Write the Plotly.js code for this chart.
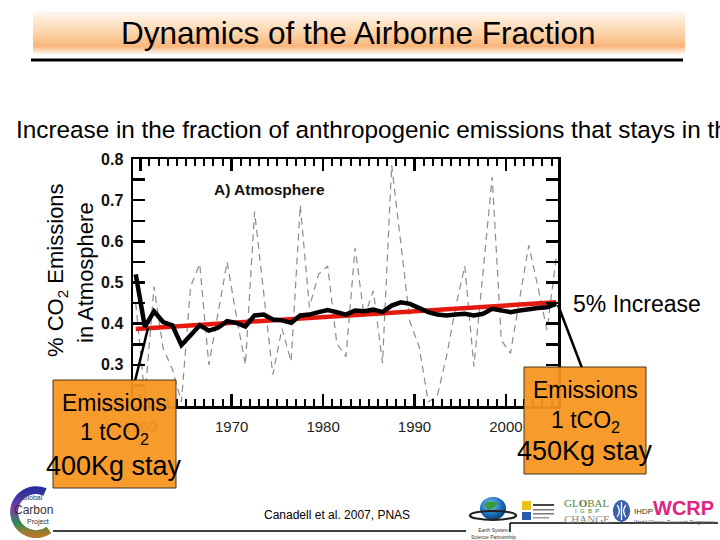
<!DOCTYPE html>
<html><head><meta charset="utf-8">
<script src="https://cdn.plot.ly/plotly-3.0.1.min.js"></script>
<style>html,body{margin:0;padding:0;background:#fff;} #chart{width:720px;height:540px;}</style>
</head><body><div id="chart"></div>
<script>
// ---- data ----
const years = [1959,1960,1961,1962,1963,1964,1965,1966,1967,1968,1969,1970,1971,1972,1973,1974,1975,1976,1977,1978,1979,1980,1981,1982,1983,1984,1985,1986,1987,1988,1989,1990,1991,1992,1993,1994,1995,1996,1997,1998,1999,2000,2001,2002,2003,2004,2005];
const airborneFraction = [0.45,0.22,0.49,0.34,0.29,0.21,0.49,0.545,0.30,0.42,0.55,0.42,0.30,0.672,0.47,0.276,0.388,0.308,0.688,0.44,0.52,0.54,0.352,0.32,0.584,0.416,0.48,0.304,0.785,0.59,0.405,0.345,0.21,0.225,0.32,0.44,0.54,0.296,0.53,0.756,0.36,0.328,0.46,0.59,0.49,0.384,0.56];
const smoothedFraction = [0.52,0.392,0.43,0.404,0.396,0.348,0.372,0.396,0.383,0.39,0.406,0.402,0.393,0.42,0.422,0.41,0.408,0.402,0.42,0.422,0.428,0.433,0.428,0.422,0.432,0.43,0.434,0.428,0.444,0.452,0.448,0.438,0.428,0.422,0.42,0.422,0.424,0.42,0.424,0.436,0.432,0.428,0.432,0.436,0.438,0.44,0.448];
const trendYears = [1959, 2005];
const trendFraction = [0.387, 0.452];
const xTickVals = [1960, 1970, 1980, 1990, 2000];
const xTickText = ['1960', '1970', '1980', '1990', '2000'];
const yTickVals = [0.2, 0.3, 0.4, 0.5, 0.6, 0.7, 0.8];
const yTickText = ['0.2', '0.3', '0.4', '0.5', '0.6', '0.7', '0.8'];

// ---- layout helpers (pixel -> paper) ----
const W = 720, H = 540, L = 133, R = 162, T = 159, B = 134;
const pw = W - L - R, ph = H - T - B;
const px = x => (x - L) / pw;
const py = y => (H - B - y) / ph;
const mid = y => y + 0.5;   // annual values plotted at mid-year
const FONT = 'Liberation Sans, Arial, sans-serif';

function svgURI(s) { return 'data:image/svg+xml;charset=utf-8,' + encodeURIComponent(s); }

const headerSVG = "<svg xmlns='http://www.w3.org/2000/svg' width='652' height='43' preserveAspectRatio='none'><defs><linearGradient id='g' x1='0' y1='0' x2='0' y2='1'><stop offset='0' stop-color='#fff6ee'/><stop offset='0.5' stop-color='#fcd3a8'/><stop offset='0.8' stop-color='#f9b57a'/><stop offset='1' stop-color='#ffffff'/></linearGradient></defs><rect width='652' height='43' fill='url(#g)'/></svg>";
const gcpSVG = "<svg xmlns='http://www.w3.org/2000/svg' width='52' height='52'><defs><linearGradient id='c' x1='0' y1='0' x2='0' y2='1'><stop offset='0' stop-color='#2b2f9e'/><stop offset='0.45' stop-color='#7a3fa8'/><stop offset='0.75' stop-color='#2e8b57'/><stop offset='1' stop-color='#b07a2a'/></linearGradient></defs><path d='M40 6 A22 22 0 1 0 44 44' fill='none' stroke='url(#c)' stroke-width='8'/></svg>";
const globeSVG = "<svg xmlns='http://www.w3.org/2000/svg' width='50' height='34'><defs><radialGradient id='b' cx='0.4' cy='0.35' r='0.7'><stop offset='0' stop-color='#7fd0ff'/><stop offset='0.6' stop-color='#1c6fb8'/><stop offset='1' stop-color='#0b3a6e'/></radialGradient></defs><circle cx='25' cy='14' r='13' fill='url(#b)'/><path d='M16 9 Q22 4 30 8 Q27 14 20 16 Z' fill='#3a9a3a'/><ellipse cx='25' cy='22' rx='23' ry='5' fill='none' stroke='#222' stroke-width='2.5'/></svg>";
const igbpSVG = "<svg xmlns='http://www.w3.org/2000/svg' width='34' height='26'><rect x='1' y='3' width='9' height='9' fill='#e8c21a'/><rect x='1' y='14' width='9' height='8' fill='#2a5aa8'/><rect x='12' y='6' width='21' height='2' fill='#444'/><rect x='12' y='11' width='21' height='1.5' fill='#777'/><rect x='12' y='15' width='21' height='1.5' fill='#777'/><rect x='12' y='19' width='16' height='1.5' fill='#999'/></svg>";
const ihdpSVG = "<svg xmlns='http://www.w3.org/2000/svg' width='22' height='24'><ellipse cx='11' cy='12' rx='10' ry='11' fill='#3b5fa8'/><path d='M6 6 Q11 12 6 18 M11 3 L11 21 M16 6 Q11 12 16 18' stroke='#fff' stroke-width='1.5' fill='none'/></svg>";

const traces = [
  { x: years.map(mid), y: airborneFraction, type: 'scatter', mode: 'lines',
    line: { color: '#8c8c8c', width: 1.2, dash: '7px,5px' }, hoverinfo: 'skip' },
  { x: trendYears.map(mid), y: trendFraction, type: 'scatter', mode: 'lines',
    line: { color: '#e41a10', width: 4.5 }, hoverinfo: 'skip' },
  { x: years.map(mid), y: smoothedFraction, type: 'scatter', mode: 'lines',
    line: { color: '#000000', width: 4.5 }, hoverinfo: 'skip' }
];

const boxFill = '#f7951f';
const shapes = [
  // title underline
  { type: 'line', xref: 'paper', yref: 'paper', x0: px(31), x1: px(683), y0: py(60), y1: py(60), line: { color: '#000', width: 3 } },
  // connector lines
  { type: 'line', xref: 'paper', yref: 'paper', x0: px(135), y0: py(381), x1: px(148), y1: py(328), line: { color: '#000', width: 2.5 }, layer: 'above' },
  { type: 'line', xref: 'paper', yref: 'paper', x0: px(558), y0: py(305), x1: px(582), y1: py(368), line: { color: '#000', width: 2.5 }, layer: 'above' },
  // orange boxes
  { type: 'rect', xref: 'paper', yref: 'paper', x0: px(53), x1: px(176), y0: py(488), y1: py(380), fillcolor: boxFill, opacity: 0.94, line: { color: '#3a2a10', width: 1 }, layer: 'above' },
  { type: 'rect', xref: 'paper', yref: 'paper', x0: px(524), x1: px(646), y0: py(474), y1: py(367), fillcolor: boxFill, opacity: 0.94, line: { color: '#3a2a10', width: 1 }, layer: 'above' },
  // footer lines
  { type: 'line', xref: 'paper', yref: 'paper', x0: px(53), x1: px(466), y0: py(531), y1: py(531), line: { color: '#000', width: 1.5 } },
  { type: 'line', xref: 'paper', yref: 'paper', x0: px(510), x1: px(718), y0: py(523), y1: py(523), line: { color: '#000', width: 1.5 } },
  { type: 'line', xref: 'paper', yref: 'paper', x0: px(510), x1: px(510), y0: py(523), y1: py(532), line: { color: '#000', width: 1.5 } }
];

function img(src, x0, y0, x1, y1, layer) {
  return { source: svgURI(src), xref: 'paper', yref: 'paper', x: px(x0), y: py(y0),
    sizex: (x1 - x0) / pw, sizey: (y1 - y0) / ph, xanchor: 'left', yanchor: 'top', sizing: 'stretch', layer: layer || 'above' };
}
const images = [
  img(headerSVG, 33, 12, 685, 55, 'below'),
  img(gcpSVG, 5, 486, 57, 538),
  img(globeSVG, 468, 496, 518, 526),
  img(igbpSVG, 521, 498, 555, 524),
  img(ihdpSVG, 612, 499, 631, 523)
];

function ann(text, x, y, size, opts) {
  return Object.assign({ text: text, xref: 'paper', yref: 'paper', x: px(x), y: py(y), showarrow: false,
    xanchor: 'center', yanchor: 'middle', font: { family: FONT, size: size, color: '#000' } }, opts || {});
}
const annotations = [
  ann('Dynamics of the Airborne Fraction', 358, 33, 31.5),
  ann('Increase in the fraction of anthropogenic emissions that stays in the', 14, 130, 24.3, { xanchor: 'left' }),
  ann('% CO<sub>2</sub> Emissions', 57, 270, 22, { textangle: -90 }),
  ann('in Atmosphere', 85, 273, 22, { textangle: -90 }),
  ann('A) Atmosphere', 269, 189, 15.5, { font: { family: FONT, size: 15.5, color: '#111', weight: 'bold' } }),
  ann('5% Increase', 571, 304, 23, { xanchor: 'left' }),
  ann('Emissions', 114, 403, 23),
  ann('1 tCO<sub>2</sub>', 114, 433, 23),
  ann('400Kg stay', 114, 466, 27),
  ann('Emissions', 585, 390, 23),
  ann('1 tCO<sub>2</sub>', 585, 421, 23),
  ann('450Kg stay', 585, 451, 27),
  ann('Canadell et al. 2007, PNAS', 337, 515, 12),
  // logo texts
  ann('Global', 32, 497, 7, { font: { family: FONT, size: 7, color: '#333' } }),
  ann('Carbon', 33, 510, 12, { font: { family: FONT, size: 12, color: '#333' } }),
  ann('Project', 38, 522, 7, { font: { family: FONT, size: 7, color: '#333' } }),
  ann('Earth System<br>Science Partnership', 493, 533, 5, { font: { family: FONT, size: 5, color: '#333' } }),
  ann('GL<b>O</b>BAL', 587, 503, 11, { font: { family: 'Liberation Serif, serif', size: 11, color: '#5a7f3a' } }),
  ann('I  G  B  P', 587, 511, 6, { font: { family: FONT, size: 6, color: '#2e8b2e' } }),
  ann('CHANGE', 587, 519, 11, { font: { family: 'Liberation Serif, serif', size: 11, color: '#888' } }),
  ann('IHDP', 632, 511, 8, { xanchor: 'left', font: { family: FONT, size: 8, color: '#333' } }),
  ann('<b>WCRP</b>', 683, 508, 20, { font: { family: 'Liberation Sans Narrow, Liberation Sans, sans-serif', size: 20, color: '#e0247f' } }),
  ann('World Climate Research Programme', 718, 522, 5, { xanchor: 'right', font: { family: FONT, size: 5, color: '#555' } })
];

const layout = {
  width: W, height: H,
  margin: { l: L, r: R, t: T, b: B, pad: 0 },
  paper_bgcolor: '#ffffff', plot_bgcolor: '#ffffff',
  showlegend: false,
  font: { family: FONT, color: '#000' },
  xaxis: {
    range: [1959.2, 2005.7], tickmode: 'array', tickvals: xTickVals, ticktext: xTickText,
    ticks: 'inside', ticklen: 12, tickwidth: 2.5, tickcolor: '#000',
    showline: true, linewidth: 2.5, linecolor: '#000', mirror: 'ticks',
    showgrid: false, zeroline: false, ticklabelstandoff: 5,
    tickfont: { family: FONT, size: 15, color: '#222' },
    minor: { tickmode: 'linear', tick0: 1960, dtick: 1, ticks: 'inside', ticklen: 7, tickwidth: 2, tickcolor: '#000', showgrid: false }
  },
  yaxis: {
    range: [0.2, 0.8], tickmode: 'array', tickvals: yTickVals, ticktext: yTickText,
    ticks: 'inside', ticklen: 12, tickwidth: 2.5, tickcolor: '#000',
    showline: true, linewidth: 2.5, linecolor: '#000', mirror: 'ticks',
    showgrid: false, zeroline: false, ticklabelstandoff: 4,
    tickfont: { family: FONT, size: 16, color: '#111', weight: 'bold' },
    minor: { tickmode: 'linear', tick0: 0.2, dtick: 0.05, ticks: 'inside', ticklen: 12, tickwidth: 2.5, tickcolor: '#000', showgrid: false }
  },
  shapes: shapes,
  images: images,
  annotations: annotations
};

Plotly.newPlot('chart', traces, layout, { staticPlot: true, displayModeBar: false });
</script>
</body></html>
